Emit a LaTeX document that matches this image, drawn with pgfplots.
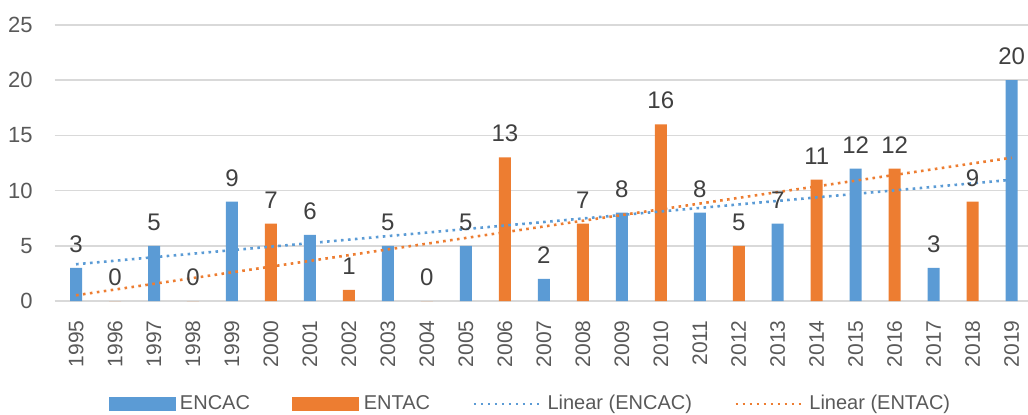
\documentclass[border=0pt]{standalone}
\usepackage{pgfplots}
\pgfplotsset{compat=1.18}
\usepackage{fontspec}
\setmainfont{Liberation Sans}
\definecolor{cblue}{HTML}{5B9BD5}
\definecolor{corange}{HTML}{ED7D31}
\definecolor{tgray}{HTML}{595959}
\definecolor{dgray}{HTML}{404040}
\definecolor{ggray}{HTML}{D9D9D9}
\begin{document}
\begin{tikzpicture}
\useasboundingbox (0,0) rectangle (514pt,207pt);
\begin{axis}[
  at={(27.3pt,56.5pt)}, anchor=south west,
  scale only axis, width=486.7pt, height=138pt,
  xmin=-0.55, xmax=24.42, ymin=0, ymax=25,
  ytick={0,5,...,25},
  xtick={0,...,24},
  xticklabels={1995,1996,1997,1998,1999,2000,2001,2002,2003,2004,2005,2006,2007,2008,2009,2010,2011,2012,2013,2014,2015,2016,2017,2018,2019},
  /pgf/number format/assume math mode=true,
  axis line style={draw=none},
  major tick length=0pt,
  ymajorgrids, grid style={ggray, line width=0.75pt},
  yticklabel style={font=\fontsize{11}{13}\selectfont, text=tgray, anchor=east, inner sep=0pt, xshift=-10.8pt},
  xticklabel style={font=\fontsize{10.5}{12}\selectfont, text=tgray, rotate=90, anchor=east, inner sep=0pt, xshift=-9.5pt},
  ybar, bar width=6pt,
  legend style={at={(0.49,-0.373)}, anchor=center, draw=none, fill=none,
    font=\fontsize{10}{12}\selectfont, text=tgray,
    /tikz/every even column/.append style={column sep=19pt},
    nodes={inner sep=2.2pt}},
  legend columns=4,
  legend cell align=left,
]
\addplot[fill=cblue, draw=none, bar shift=0pt,
  nodes near coords,
  every node near coord/.append style={font=\fontsize{12}{14}\selectfont, text=dgray, anchor=south, inner sep=0pt, yshift=7.5pt},
  legend image code/.code={\fill[cblue] (0pt,-3.5pt) rectangle (33.5pt,3.5pt);}]
  coordinates {(0,3) (2,5) (4,9) (6,6) (8,5) (10,5) (12,2) (14,8) (16,8) (18,7) (20,12) (22,3) (24,20)};
\addlegendentry{ENCAC}
\addplot[fill=corange, draw=none, bar shift=0pt,
  nodes near coords,
  every node near coord/.append style={font=\fontsize{12}{14}\selectfont, text=dgray, anchor=south, inner sep=0pt, yshift=7.5pt},
  legend image code/.code={\fill[corange] (0pt,-3.5pt) rectangle (33.5pt,3.5pt);}]
  coordinates {(1,0) (3,0) (5,7) (7,1) (9,0) (11,13) (13,7) (15,16) (17,5) (19,11) (21,12) (23,9)};
\addlegendentry{ENTAC}
\addplot[sharp plot, cblue, line width=1.3pt, dash pattern=on 1.3pt off 2.2pt,
  legend image code/.code={\draw[cblue, line width=1.3pt, dash pattern=on 1.3pt off 2.2pt] (0pt,0pt) -- (34pt,0pt);}]
  coordinates {(0,3.33) (24,10.98)};
\addlegendentry{Linear (ENCAC)}
\addplot[sharp plot, corange, line width=1.3pt, dash pattern=on 1.3pt off 2.2pt,
  legend image code/.code={\draw[corange, line width=1.3pt, dash pattern=on 1.3pt off 2.2pt] (0pt,0pt) -- (34pt,0pt);}]
  coordinates {(0,0.52) (24,12.98)};
\addlegendentry{Linear (ENTAC)}
\end{axis}
\end{tikzpicture}
\end{document}
